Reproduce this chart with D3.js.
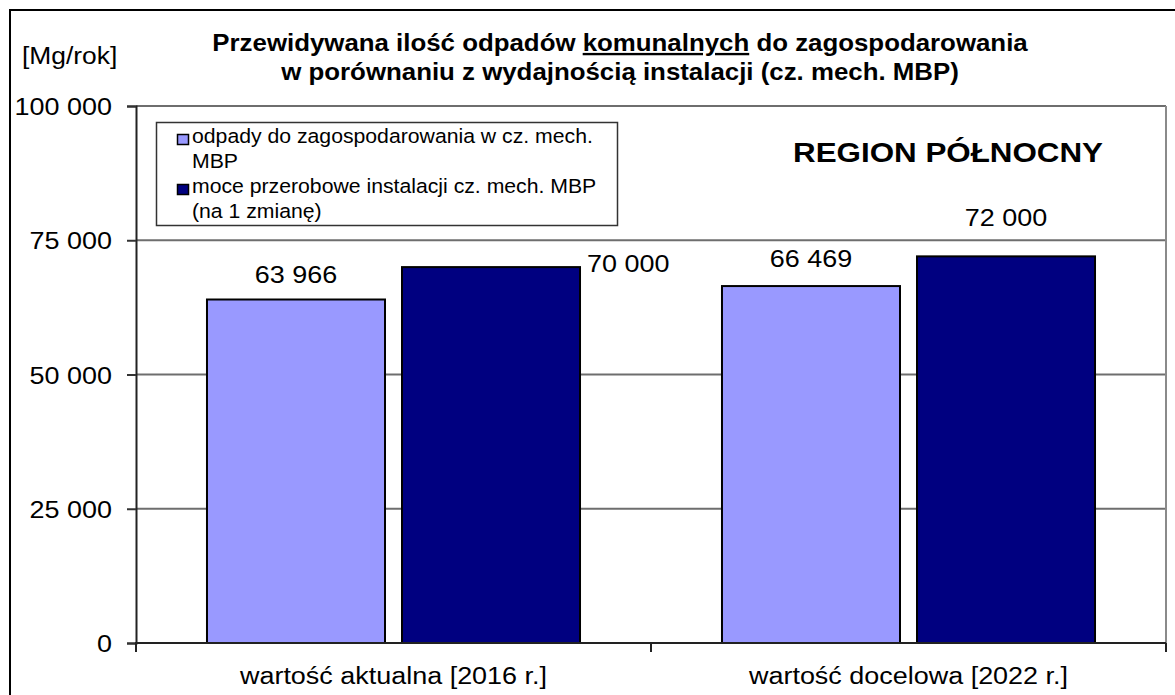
<!DOCTYPE html>
<html lang="pl">
<head>
<meta charset="utf-8">
<script src="https://cdn.jsdelivr.net/npm/d3@7"></script>
<style>
  html, body { margin: 0; padding: 0; background: #fff; }
  svg { display: block; font-family: "Liberation Sans", Arial, sans-serif; }
</style>
</head>
<body>
<svg id="chart" width="1175" height="695"></svg>
<script>
// Data
const categories = ["wartość aktualna [2016 r.]", "wartość docelowa [2022 r.]"];
const seriesNames = [
  ["odpady do zagospodarowania w cz. mech.", "MBP"],
  ["moce przerobowe instalacji cz. mech. MBP", "(na 1 zmianę)"]
];
const wasteValues = [63966, 66469];
const capacityValues = [70000, 72000];
const yTicks = [0, 25000, 50000, 75000, 100000];
const unitLabel = "[Mg/rok]";
const regionLabel = "REGION PÓŁNOCNY";

// Layout / style
const W = 1175, H = 695;
const plot = { left: 136, right: 1166, top: 106, bottom: 643 };
const colors = ["#9999FF", "#000080"];
const SX = 1.1;  // horizontal text stretch
// per-label placement relative to bar top: [dx from bar centre, dy, anchor]
const labelPlacement = [
  [[0, -17, "middle"], [96, 5, "start"]],
  [[0, -19, "middle"], [0, -30, "middle"]]
];

const svg = d3.select("#chart");

function stext(parent, x, y, str, size, opts = {}) {
  return parent.append("text")
    .attr("transform", `translate(${x},${y}) scale(${SX},1)`)
    .attr("text-anchor", opts.anchor || "start")
    .attr("font-size", size)
    .attr("font-weight", opts.bold ? "bold" : "normal")
    .attr("fill", "#000")
    .text(str);
}

// Outer chart frame
svg.append("rect")
  .attr("x", 10).attr("y", 10).attr("width", 1200).attr("height", 720)
  .attr("fill", "#fff").attr("stroke", "#000").attr("stroke-width", 2);

const y = d3.scaleLinear().domain([0, 100000]).range([plot.bottom, plot.top]);
const x0 = d3.scaleBand().domain(categories).range([plot.left, plot.right]).padding(0);
const seriesKeys = [0, 1];
const x1 = d3.scaleBand().domain(seriesKeys).range([0, x0.bandwidth()])
  .paddingInner(0.0872).paddingOuter(0.364);

// Gridlines and right border of plot area
svg.append("g")
  .selectAll("line.grid")
  .data(yTicks.filter(d => d > 0))
  .join("line")
  .attr("x1", plot.left).attr("x2", plot.right)
  .attr("y1", d => y(d)).attr("y2", d => y(d))
  .attr("stroke", "#6e6e6e").attr("stroke-width", 2);
svg.append("line")
  .attr("x1", plot.right).attr("x2", plot.right)
  .attr("y1", plot.top).attr("y2", plot.bottom)
  .attr("stroke", "#8a8a8a").attr("stroke-width", 2);

// Bars
const groups = svg.append("g").selectAll("g")
  .data(categories.map((c, i) => ({ c, i, vals: [wasteValues[i], capacityValues[i]] })))
  .join("g")
  .attr("transform", d => `translate(${x0(d.c)},0)`);

groups.selectAll("rect")
  .data(d => d.vals.map((v, s) => ({ v, s, i: d.i })))
  .join("rect")
  .attr("x", d => x1(d.s))
  .attr("width", x1.bandwidth())
  .attr("y", d => y(d.v))
  .attr("height", d => y(0) - y(d.v))
  .attr("fill", d => colors[d.s])
  .attr("stroke", "#000").attr("stroke-width", 2);

// Value labels
const fmt = v => d3.format(",")(v).replace(/,/g, " ");
groups.each(function (d) {
  const g = d3.select(this);
  d.vals.forEach((v, s) => {
    const [dx, dy, anchor] = labelPlacement[d.i][s];
    const cx = x1(s) + x1.bandwidth() / 2 + dx;
    stext(g, cx, y(v) + dy, fmt(v), 24.5, { anchor });
  });
});

// Y axis
const yAxis = svg.append("g")
  .attr("transform", `translate(${plot.left},0)`)
  .call(d3.axisLeft(y).tickValues(yTicks).tickSize(9).tickPadding(0).tickFormat(fmt));
yAxis.select(".domain").attr("stroke", "#222").attr("stroke-width", 2);
yAxis.selectAll(".tick line").attr("stroke", "#333").attr("stroke-width", 2);
yAxis.selectAll(".tick text")
  .attr("font-size", 24.5).attr("fill", "#000")
  .attr("font-family", "Liberation Sans, Arial, sans-serif")
  .attr("x", -24 / SX).attr("dy", "0.35em")
  .attr("transform", `scale(${SX},1)`);

// X axis
svg.append("line")
  .attr("x1", plot.left - 1).attr("x2", plot.right)
  .attr("y1", plot.bottom).attr("y2", plot.bottom)
  .attr("stroke", "#222").attr("stroke-width", 2);
svg.append("g").selectAll("line")
  .data(categories.map(c => x0(c)).concat([plot.right]))
  .join("line")
  .attr("x1", d => d).attr("x2", d => d)
  .attr("y1", plot.bottom).attr("y2", plot.bottom + 9)
  .attr("stroke", "#222").attr("stroke-width", 2);
categories.forEach(c => {
  stext(svg, x0(c) + x0.bandwidth() / 2, 684, c, 24.5, { anchor: "middle" });
});

// Unit label
stext(svg, 22, 64, unitLabel, 24);

// Title
const title = svg.append("text")
  .attr("transform", `translate(620,51) scale(${SX},1)`)
  .attr("text-anchor", "middle")
  .attr("font-size", 23.5).attr("font-weight", "bold");
title.append("tspan").text("Przewidywana ilość odpadów ");
title.append("tspan").attr("text-decoration", "underline").text("komunalnych");
title.append("tspan").text(" do zagospodarowania");
stext(svg, 620, 80, "w porównaniu z wydajnością instalacji (cz. mech. MBP)", 23.5, { anchor: "middle", bold: true });

// Region label
stext(svg, 948, 162, regionLabel, 28.5, { anchor: "middle", bold: true });

// Legend
const lg = svg.append("g");
lg.append("rect")
  .attr("x", 156.5).attr("y", 122.5).attr("width", 461).attr("height", 103)
  .attr("fill", "#fff").attr("stroke", "#333").attr("stroke-width", 1.5);
seriesNames.forEach((lines, s) => {
  const base = 143 + s * 50;
  lg.append("rect")
    .attr("x", 177.5).attr("y", base - 8.5).attr("width", 11).attr("height", 10)
    .attr("fill", colors[s]).attr("stroke", "#000").attr("stroke-width", 1.5);
  lines.forEach((t, k) => stext(lg, 192, base + k * 25, t, 19.3));
});
</script>
</body>
</html>
